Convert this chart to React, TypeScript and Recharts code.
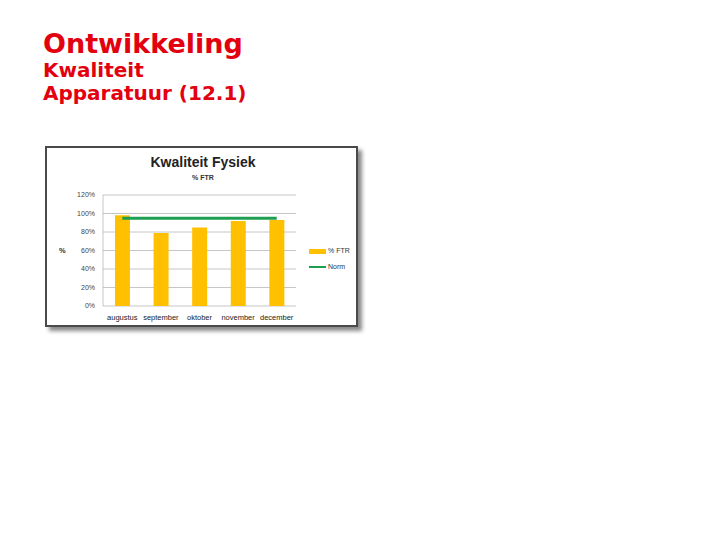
import {
  Bar,
  CartesianGrid,
  ComposedChart,
  Line,
  XAxis,
  YAxis,
} from "recharts";

const months = ["augustus", "september", "oktober", "november", "december"];
const ftrValues = [98, 79, 85, 92, 93];
const normValues = [95, 95, 95, 95, 95];
const yTicks = [0, 20, 40, 60, 80, 100, 120];

const data = months.map((name, i) => ({
  name,
  ftr: ftrValues[i],
  norm: normValues[i],
}));

const RED = "#e3000f";
const BAR = "#ffc000";
const GREEN = "#1e9e50";
const tickFont = "'Liberation Sans', Arial, sans-serif";

const headerStyle = (top: number, size: number): React.CSSProperties => ({
  position: "absolute",
  left: 43,
  top,
  fontFamily: "'DejaVu Sans', Verdana, sans-serif",
  fontWeight: "bold",
  fontSize: size,
  lineHeight: 1,
  color: RED,
  whiteSpace: "nowrap",
});

export default function App() {
  return (
    <>
      <div style={headerStyle(30, 27)}>Ontwikkeling</div>
      <div style={headerStyle(60, 20)}>Kwaliteit</div>
      <div style={headerStyle(83, 20)}>Apparatuur (12.1)</div>

      <div
        style={{
          position: "absolute",
          left: 45,
          top: 146,
          width: 309,
          height: 177,
          border: "2px solid #4a4a4a",
          boxShadow: "4px 4px 4px #8a8a8a",
          background: "#fff",
        }}
      >
        <div
          style={{
            position: "absolute",
            left: 0,
            width: 312,
            top: 7,
            textAlign: "center",
            fontFamily: "'Liberation Sans Narrow', 'Liberation Sans', Arial, sans-serif",
            fontWeight: "bold",
            fontSize: 14,
            lineHeight: 1,
            color: "#222",
          }}
        >
          Kwaliteit Fysiek
        </div>
        <div
          style={{
            position: "absolute",
            left: 0,
            width: 312,
            top: 26,
            textAlign: "center",
            fontFamily: tickFont,
            fontWeight: "bold",
            fontSize: 7,
            lineHeight: 1,
            color: "#333",
          }}
        >
          % FTR
        </div>

        <ComposedChart
          width={309}
          height={177}
          data={data}
          margin={{ top: 47, right: 60, bottom: 0, left: 0 }}
          barCategoryGap="31%"
        >
          <CartesianGrid vertical={false} stroke="#b8b8b8" strokeWidth={0.8} />
          <XAxis
            dataKey="name"
            height={19}
            interval={0}
            axisLine={false}
            tickLine={false}
            tickMargin={3}
            tick={{ fontSize: 7.5, fill: "#222", fontFamily: tickFont }}
          />
          <YAxis
            width={56}
            domain={[0, 120]}
            ticks={yTicks}
            interval={0}
            tickFormatter={(v: number) => `${v}%`}
            axisLine={{ stroke: "#b8b8b8", strokeWidth: 0.8 }}
            tickLine={false}
            tick={{ fontSize: 7, fill: "#444", fontFamily: tickFont }}
            label={{
              value: "%",
              position: "insideLeft",
              offset: 12,
              fontSize: 7.5,
              fontWeight: "bold",
              fill: "#333",
              fontFamily: tickFont,
            }}
          />
          <Bar dataKey="ftr" fill={BAR} isAnimationActive={false} />
          <Line
            dataKey="norm"
            stroke={GREEN}
            strokeWidth={3}
            dot={false}
            activeDot={false}
            isAnimationActive={false}
          />
        </ComposedChart>

        <div
          style={{
            position: "absolute",
            left: 262,
            top: 98,
            fontFamily: tickFont,
            fontSize: 7,
            color: "#333",
            lineHeight: "10px",
          }}
        >
          <div style={{ display: "flex", alignItems: "center", height: 10 }}>
            <span
              style={{ width: 17, height: 5, background: BAR, marginRight: 2 }}
            />
            % FTR
          </div>
          <div
            style={{
              display: "flex",
              alignItems: "center",
              height: 10,
              marginTop: 6,
            }}
          >
            <span
              style={{ width: 17, height: 1.5, background: GREEN, marginRight: 2 }}
            />
            Norm
          </div>
        </div>
      </div>
    </>
  );
}
